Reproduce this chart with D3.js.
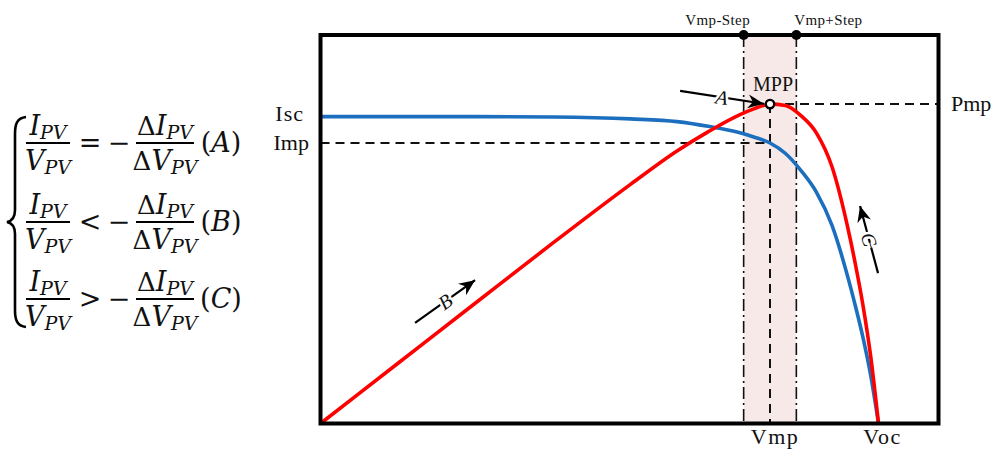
<!DOCTYPE html>
<html>
<head>
<meta charset="utf-8">
<script src="https://cdn.jsdelivr.net/npm/d3@7"></script>
<style>
  html, body { margin: 0; padding: 0; background: #fff; }
  svg { display: block; }
  text { font-family: "Liberation Serif", "Times New Roman", serif; fill: #111; }
</style>
</head>
<body>
<svg id="chart" width="994" height="450"></svg>
<script>
// PV module characteristics (voltage in V, current in A, power in W)
const voltage = [0, 5, 10, 15, 20, 23, 25, 27, 28, 29, 30, 31, 32, 33, 34, 34.5, 35, 35.5, 36];
const current = [7.9, 7.9, 7.9, 7.89, 7.84, 7.77, 7.65, 7.49, 7.37, 7.22, 6.95, 6.51, 5.95, 5.1, 3.8, 3.04, 2.21, 1.23, 0];
const power   = [0, 39.5, 79, 118.4, 156.8, 178.7, 191.2, 202.2, 206.4, 209.4, 208.5, 201.8, 190.4, 168.3, 129.2, 104.9, 77.4, 43.7, 0];

// key operating points
const Isc = 7.9, Imp = 7.22, Vmp = 29, Voc = 36, Pmp = 209.4, Vstep = 1.7;

// perturbation direction arrows: [V0, I0, V1, I1] in current-axis units
const arrowA = [23.2, 8.56, 28.6, 8.23];
const arrowB = [6.1, 2.59, 9.97, 3.69];
const arrowC = [35.97, 3.87, 34.81, 5.6];

const svg = d3.select("#chart");

const x  = d3.scaleLinear().domain([0, 40]).range([320.5, 940.5]);
const yI = d3.scaleLinear().domain([0, 10]).range([423.5, 35]);
const yP = d3.scaleLinear().domain([0, 254.7]).range([423.5, 35]);

const frame = { x0: 320.5, x1: 938.5, y0: 35, y1: 423.5 };

// shaded band Vmp ± step
svg.append("rect")
  .attr("x", x(Vmp - Vstep)).attr("y", frame.y0)
  .attr("width", x(Vmp + Vstep) - x(Vmp - Vstep))
  .attr("height", frame.y1 - frame.y0)
  .attr("fill", "#f6e9e7");

// dash-dot boundaries of the band
[Vmp - Vstep, Vmp + Vstep].forEach(v => {
  svg.append("line")
    .attr("x1", x(v)).attr("x2", x(v))
    .attr("y1", frame.y0).attr("y2", frame.y1)
    .attr("stroke", "#111").attr("stroke-width", 1.6)
    .attr("stroke-dasharray", "12,4,2,4");
});

// reference dashed lines
const dash = "9,6";
svg.append("line")
  .attr("x1", frame.x0).attr("x2", x(Vmp))
  .attr("y1", yI(Imp)).attr("y2", yI(Imp))
  .attr("stroke", "#111").attr("stroke-width", 2).attr("stroke-dasharray", dash);
svg.append("line")
  .attr("x1", x(Vmp)).attr("x2", frame.x1)
  .attr("y1", yP(Pmp)).attr("y2", yP(Pmp))
  .attr("stroke", "#111").attr("stroke-width", 2).attr("stroke-dasharray", dash);
svg.append("line")
  .attr("x1", x(Vmp)).attr("x2", x(Vmp))
  .attr("y1", yP(Pmp)).attr("y2", frame.y1)
  .attr("stroke", "#111").attr("stroke-width", 2).attr("stroke-dasharray", dash);

// I-V and P-V curves
const pts = voltage.map((v, i) => ({ v, i: current[i], p: power[i] }));
svg.append("path").datum(pts)
  .attr("fill", "none").attr("stroke", "#1c6fbe").attr("stroke-width", 3.6)
  .attr("d", d3.line().x(d => x(d.v)).y(d => yI(d.i)).curve(d3.curveMonotoneX));
svg.append("path").datum(pts)
  .attr("fill", "none").attr("stroke", "#ff0000").attr("stroke-width", 3.6)
  .attr("d", d3.line().x(d => x(d.v)).y(d => yP(d.p)).curve(d3.curveMonotoneX));

// frame
svg.append("rect")
  .attr("x", frame.x0).attr("y", frame.y0)
  .attr("width", frame.x1 - frame.x0).attr("height", frame.y1 - frame.y0)
  .attr("fill", "none").attr("stroke", "#000").attr("stroke-width", 4);

// step markers on the top edge
[Vmp - Vstep, Vmp + Vstep].forEach(v => {
  svg.append("circle").attr("cx", x(v)).attr("cy", frame.y0).attr("r", 5).attr("fill", "#000");
});

// MPP marker
svg.append("circle").attr("cx", x(Vmp)).attr("cy", yP(Pmp)).attr("r", 4.2)
  .attr("fill", "#fff").attr("stroke", "#000").attr("stroke-width", 2.4);

// arrow marker
const defs = svg.append("defs");
defs.append("marker").attr("id", "head")
  .attr("viewBox", "-16 -8 18 16").attr("refX", 0).attr("refY", 0)
  .attr("markerWidth", 18).attr("markerHeight", 16).attr("markerUnits", "userSpaceOnUse")
  .attr("orient", "auto")
  .append("path").attr("d", "M0,0 L-16,-7 L-11,0 L-16,7 Z").attr("fill", "#000");

function arrow(a, label, rot) {
  const x0 = x(a[0]), y0 = yI(a[1]), x1 = x(a[2]), y1 = yI(a[3]);
  svg.append("line").attr("x1", x0).attr("y1", y0).attr("x2", x1).attr("y2", y1)
    .attr("stroke", "#000").attr("stroke-width", 2.2).attr("marker-end", "url(#head)");
  const mx = (x0 + x1) / 2, my = (y0 + y1) / 2;
  const ang = rot !== undefined ? rot : Math.atan2(y1 - y0, x1 - x0) * 180 / Math.PI;
  svg.append("text").attr("transform", `translate(${mx},${my}) rotate(${ang})`)
    .attr("text-anchor", "middle").attr("dy", "0.35em")
    .style("font-style", "italic").style("font-size", "20px")
    .attr("stroke", "#fff").attr("stroke-width", 5).attr("paint-order", "stroke")
    .text(label);
}
arrow(arrowA, "A");
arrow(arrowB, "B");
arrow(arrowC, "C", 74);

// point labels
function label(txt, tx, ty, anchor, size, spacing) {
  svg.append("text").attr("x", tx).attr("y", ty).attr("text-anchor", anchor)
    .style("font-size", size + "px").style("letter-spacing", (spacing || 0) + "px").text(txt);
}
label("Isc", 304, yI(Isc) + 4, "end", 22, 1);
label("Imp", 309, yI(Imp) + 7, "end", 22, 0);
label("Pmp", 951, yP(Pmp) + 7, "start", 22, 0);
label("Vmp", x(Vmp) + 5, 444, "middle", 22, 1.5);
label("Voc", x(Voc) + 4, 444, "middle", 22, 1.5);
label("MPP", x(Vmp) + 3, yP(Pmp) - 13, "middle", 20, 0);
label("Vmp-Step", x(Vmp - Vstep) - 26, 25, "middle", 15, 0.4);
label("Vmp+Step", x(Vmp + Vstep) + 32, 25, "middle", 15, 0.4);

// incremental conductance conditions
const eq = svg.append("g").attr("class", "equations");
eq.append("path")
  .attr("d", "M26,117 C17,118 15,124 15,134 L15,210 C15,218 12,221 7,222 C12,223 15,226 15,234 L15,310 C15,320 17,326 26,327")
  .attr("fill", "none").attr("stroke", "#000").attr("stroke-width", 2.6);

const conds = [{ op: "=", tag: "(A)" }, { op: "<", tag: "(B)" }, { op: ">", tag: "(C)" }];
const barY = [143, 222, 299];
const mathFont = "'DejaVu Serif', serif";

function frac(g, cx, by, w, num, den, delta) {
  g.append("line").attr("x1", cx - w / 2).attr("x2", cx + w / 2)
    .attr("y1", by).attr("y2", by).attr("stroke", "#000").attr("stroke-width", 1.8);
  [[num, by - 8], [den, by + 27]].forEach(([sym, ty]) => {
    const t = g.append("text").attr("x", cx).attr("y", ty).attr("text-anchor", "middle")
      .style("font-family", mathFont);
    if (delta) t.append("tspan").style("font-size", "26px").text("Δ");
    t.append("tspan").style("font-size", "27px").style("font-style", "italic").text(sym);
    t.append("tspan").style("font-size", "19px").style("font-style", "italic").attr("dy", 4).text("PV");
  });
}

conds.forEach((c, k) => {
  const g = eq.append("g");
  const by = barY[k];
  frac(g, 48, by, 44, "I", "V", false);
  g.append("text").attr("x", 90).attr("y", by + 9).attr("text-anchor", "middle")
    .style("font-family", mathFont).style("font-size", "27px").text(c.op);
  g.append("text").attr("x", 119).attr("y", by + 9).attr("text-anchor", "middle")
    .style("font-family", mathFont).style("font-size", "27px").text("−");
  frac(g, 165, by, 58, "I", "V", true);
  const t = g.append("text").attr("x", 221).attr("y", by + 9).attr("text-anchor", "middle")
    .style("font-family", mathFont).style("font-size", "27px");
  t.append("tspan").text("(");
  t.append("tspan").style("font-style", "italic").text(c.tag[1]);
  t.append("tspan").text(")");
});
</script>
</body>
</html>
